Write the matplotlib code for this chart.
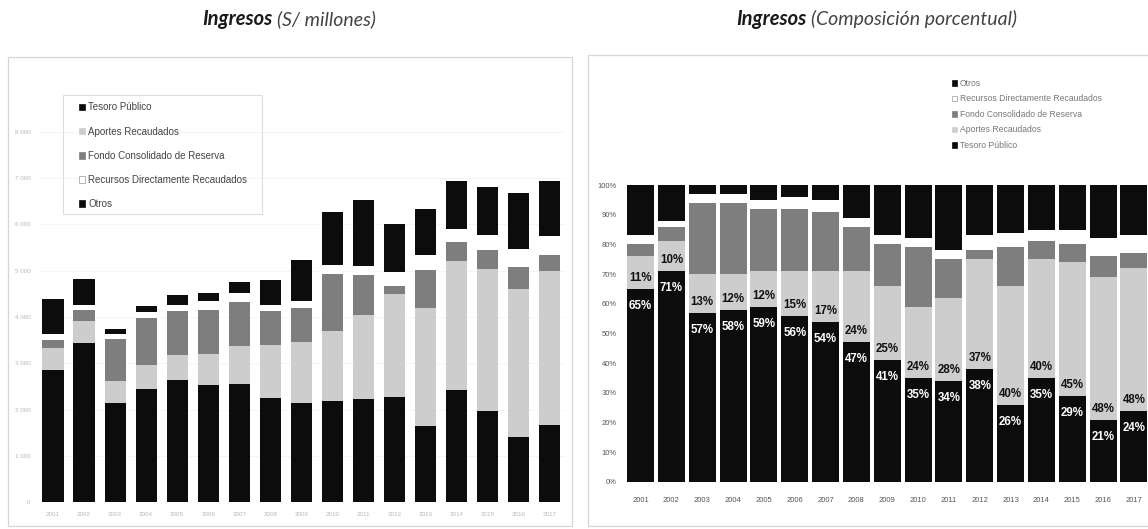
import matplotlib
matplotlib.use("Agg")
import matplotlib.pyplot as plt
from matplotlib.patches import Rectangle, Patch

# ---------------- data ----------------
years = ["2001", "2002", "2003", "2004", "2005", "2006", "2007", "2008", "2009",
         "2010", "2011", "2012", "2013", "2014", "2015", "2016", "2017"]

series_names = ["Tesoro Público", "Aportes Recaudados", "Fondo Consolidado de Reserva",
                "Recursos Directamente Recaudados", "Otros"]

# Left chart: S/ millones
tesoro_mill = [2850, 3430, 2130, 2450, 2640, 2530, 2560, 2250, 2150, 2190, 2220, 2280, 1650, 2430, 1970, 1400, 1660]
aportes_mill = [480, 480, 490, 510, 540, 680, 810, 1150, 1310, 1500, 1830, 2220, 2540, 2770, 3060, 3210, 3330]
fondo_mill = [180, 240, 900, 1010, 940, 950, 950, 720, 730, 1250, 850, 180, 820, 420, 410, 470, 350]
recursos_mill = [130, 100, 110, 130, 130, 180, 190, 140, 160, 190, 200, 300, 320, 280, 340, 400, 420]
otros_mill = [750, 580, 110, 130, 220, 180, 240, 530, 890, 1130, 1440, 1020, 1010, 1040, 1020, 1200, 1180]

left_ticks = [0, 1000, 2000, 3000, 4000, 5000, 6000, 7000, 8000]
left_tick_labels = ["0", "1 000", "2 000", "3 000", "4 000", "5 000", "6 000", "7 000", "8 000"]

# Right chart: composición porcentual
tesoro_pct = [65, 71, 57, 58, 59, 56, 54, 47, 41, 35, 34, 38, 26, 35, 29, 21, 24]
aportes_pct = [11, 10, 13, 12, 12, 15, 17, 24, 25, 24, 28, 37, 40, 40, 45, 48, 48]
fondo_pct = [4, 5, 24, 24, 21, 21, 20, 15, 14, 20, 13, 3, 13, 6, 6, 7, 5]
recursos_pct = [3, 2, 3, 3, 3, 4, 4, 3, 3, 3, 3, 5, 5, 4, 5, 6, 6]
otros_pct = [17, 12, 3, 3, 5, 4, 5, 11, 17, 18, 22, 17, 16, 15, 15, 18, 17]

right_ticks = [0, 10, 20, 30, 40, 50, 60, 70, 80, 90, 100]
right_tick_labels = [f"{t}%" for t in right_ticks]

colors = ["#0c0c0c", "#cdcdcd", "#7e7e7e", "#ffffff", "#0c0c0c"]

# ---------------- figure ----------------
W, H = 1148, 529
fig = plt.figure(figsize=(W / 100, H / 100), dpi=100)
plt.rcParams["font.family"] = ["Liberation Sans", "DejaVu Sans"]


def fx(x):
    return x / W


def fy(y):
    return 1 - y / H


def frame(x0, y0, x1, y1, color, lw):
    fig.patches.append(Rectangle((fx(x0), fy(y1)), fx(x1) - fx(x0), fy(y0) - fy(y1),
                                 transform=fig.transFigure, fill=False,
                                 edgecolor=color, linewidth=lw))


# panel frames
frame(8, 57, 572, 526, "#d6d6d6", 0.9)
frame(588, 55, 1160, 526, "#d6d6d6", 0.9)

# titles
for xr, xl, sub in [(272, 277, "(S/ millones)"), (806, 811, "(Composición porcentual)")]:
    fig.text(fx(xr), fy(19), "Ingresos", ha="right", va="center", fontsize=14.5,
             fontweight="bold", fontstyle="italic", family="Lato", color="#1a1a1a")
    fig.text(fx(xl), fy(19), sub, ha="left", va="center", fontsize=14,
             fontweight="normal", fontstyle="italic", family="Lato", color="#444444")

# ---------------- left chart ----------------
x = list(range(len(years)))
ax1 = fig.add_axes([fx(37.5), fy(502), fx(565) - fx(37.5), fy(132) - fy(502)])
bottom = [0] * len(years)
for vals, c in zip([tesoro_mill, aportes_mill, fondo_mill, recursos_mill, otros_mill], colors):
    ax1.bar(x, vals, width=0.68, bottom=bottom, color=c, linewidth=0, zorder=3)
    bottom = [b + v for b, v in zip(bottom, vals)]
ax1.set_xlim(-0.5, 16.5)
ax1.set_ylim(0, 8000)
ax1.set_yticks(left_ticks)
ax1.set_yticklabels(left_tick_labels, fontsize=4.5, color="#b8b8b8")
ax1.set_xticks(x)
ax1.set_xticklabels(years, fontsize=4.5, color="#b8b8b8")
ax1.tick_params(length=0, pad=7)
ax1.tick_params(axis="y", pad=5)
ax1.grid(axis="y", color="#f4f4f4", linewidth=0.6, zorder=0)
ax1.set_axisbelow(True)
for s in ax1.spines.values():
    s.set_visible(False)
ax1.patch.set_alpha(0)

handles_l = [Patch(facecolor=c, edgecolor="#999999" if c == "#ffffff" else c, linewidth=0.5)
             for c in colors]
frame(63, 95, 262, 214, "#dddddd", 0.8)
leg1 = fig.legend(handles_l, series_names, loc="upper left",
                  bbox_to_anchor=(fx(79), fy(102.5)),
                  fontsize=7, frameon=False,
                  handlelength=0.65, handleheight=0.65,
                  handletextpad=0.3, labelspacing=1.45, borderpad=0.0,
                  borderaxespad=0.0)
for t in leg1.get_texts():
    t.set_color("#444444")

# ---------------- right chart ----------------
ax2 = fig.add_axes([fx(625.1), fy(482), fx(1149.4) - fx(625.1), fy(185) - fy(482)])
bottom = [0] * len(years)
for vals, c in zip([tesoro_pct, aportes_pct, fondo_pct, recursos_pct, otros_pct], colors):
    ax2.bar(x, vals, width=0.875, bottom=bottom, color=c, linewidth=0, zorder=3)
    bottom = [b + v for b, v in zip(bottom, vals)]
ax2.set_xlim(-0.5, 16.5)
ax2.set_ylim(0, 100)
ax2.set_yticks(right_ticks)
ax2.set_yticklabels(right_tick_labels, fontsize=5.5, color="#555555")
ax2.set_xticks(x)
ax2.set_xticklabels(years, fontsize=5.5, color="#555555")
ax2.tick_params(length=0, pad=11)
ax2.tick_params(axis="y", pad=6)
for s in ax2.spines.values():
    s.set_visible(False)
ax2.patch.set_alpha(0)

for i in x:
    ax2.annotate(f"{tesoro_pct[i]}%", (i, tesoro_pct[i]), xytext=(0, -17),
                 textcoords="offset pixels", ha="center", va="center",
                 color="white", fontsize=8.3, fontweight="bold", zorder=5)
    ax2.annotate(f"{aportes_pct[i]}%", (i, tesoro_pct[i]), xytext=(0, 11),
                 textcoords="offset pixels", ha="center", va="center",
                 color="#111111", fontsize=8.3, fontweight="bold", zorder=5)

order = [4, 3, 2, 1, 0]
handles_r = [handles_l[k] for k in order]
labels_r = [series_names[k] for k in order]
leg2 = fig.legend(handles_r, labels_r, loc="upper left",
                  bbox_to_anchor=(fx(952), fy(79)), fontsize=6.2, frameon=False,
                  handlelength=0.6, handleheight=0.6, handletextpad=0.3,
                  labelspacing=0.75, borderpad=0.0, borderaxespad=0.0)
for t in leg2.get_texts():
    t.set_color("#777777")

fig.savefig("out.png", dpi=100)
